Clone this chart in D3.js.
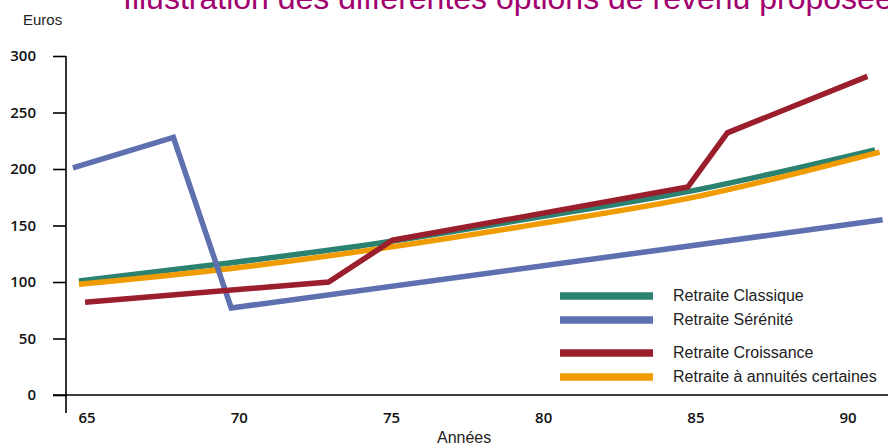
<!DOCTYPE html>
<html>
<head>
<meta charset="utf-8">
<script src="https://cdn.jsdelivr.net/npm/d3@7"></script>
<style>
  html, body { margin: 0; padding: 0; background: #fff; }
  svg { display: block; }
</style>
</head>
<body>
<svg id="chart" width="888" height="444"></svg>
<script>
// ---------- data ----------
const title = "Illustration des différentes options de revenu proposées";
const yLabel = "Euros";
const xLabel = "Années";
const yTicks = [0, 50, 100, 150, 200, 250, 300];
const xTicks = [65, 70, 75, 80, 85, 90];

const seriesNames = ["Retraite Classique", "Retraite Sérénité", "Retraite Croissance", "Retraite à annuités certaines"];

const classiqueYears = [65, 70, 75, 80, 85, 91.15];
const classiqueValues = [101, 117, 135, 157, 180, 217];

const sereniteYears = [64.8, 68.1, 70, 91.4];
const sereniteValues = [201, 228, 77, 155];

const croissanceYears = [65.2, 73.2, 75.3, 85, 86.3, 90.9];
const croissanceValues = [82, 100, 137, 184, 232, 282];

const annuitesYears = [65, 70, 75, 80, 85, 91.3];
const annuitesValues = [98, 112, 130, 151, 174, 215];

// ---------- drawing ----------
const colors = ["#2b8270", "#5e70b0", "#9b1e2d", "#f09b00"];
const svg = d3.select("#chart");

const x = d3.scaleLinear().domain([65, 90]).range([79, 840]);
const y = d3.scaleLinear().domain([0, 300]).range([395, 56]);

// title
svg.append("text")
  .attr("x", 123).attr("y", 9)
  .attr("fill", "#a1006e")
  .style("font-family", "'Liberation Sans', Arial, sans-serif")
  .style("font-size", "32px")
  .text(title);

// axis label
svg.append("text")
  .attr("x", 23).attr("y", 25)
  .style("font-family", "'Liberation Sans', Arial, sans-serif")
  .style("font-size", "15px")
  .attr("fill", "#222")
  .text(yLabel);

svg.append("text")
  .attr("x", 437).attr("y", 443)
  .style("font-family", "'Liberation Sans', Arial, sans-serif")
  .style("font-size", "16px")
  .attr("fill", "#222")
  .text(xLabel);

// y axis
const yAxis = d3.axisLeft(y).tickValues(yTicks).tickSize(13).tickPadding(17).tickSizeOuter(0);
const gy = svg.append("g").attr("transform", "translate(66,0)").call(yAxis);
gy.select(".domain").remove();
gy.selectAll(".tick line").attr("stroke", "#000").attr("stroke-width", 1.6);
gy.selectAll(".tick text")
  .style("font-family", "'Open Sans', 'Liberation Sans', sans-serif")
  .style("font-weight", "600")
  .style("font-size", "15px")
  .attr("fill", "#111");

// axis lines
svg.append("line").attr("x1", 66).attr("x2", 66).attr("y1", 56).attr("y2", 413)
  .attr("stroke", "#000").attr("stroke-width", 1.6);
svg.append("line").attr("x1", 53).attr("x2", 888).attr("y1", y(0)).attr("y2", y(0))
  .attr("stroke", "#000").attr("stroke-width", 1.6);

// x axis labels
const xAxis = d3.axisBottom(x).tickValues(xTicks).tickSize(0).tickPadding(17);
const gx = svg.append("g").attr("transform", `translate(0,${y(0)})`).call(xAxis);
gx.select(".domain").remove();
gx.selectAll(".tick text")
  .attr("text-anchor", "start")
  .attr("x", -1)
  .style("font-family", "'Open Sans', 'Liberation Sans', sans-serif")
  .style("font-weight", "600")
  .style("font-size", "15px")
  .attr("fill", "#111");

// lines
const series = [
  { years: classiqueYears, values: classiqueValues, color: colors[0], curve: d3.curveMonotoneX },
  { years: annuitesYears, values: annuitesValues, color: colors[3], curve: d3.curveMonotoneX },
  { years: sereniteYears, values: sereniteValues, color: colors[1], curve: d3.curveLinear },
  { years: croissanceYears, values: croissanceValues, color: colors[2], curve: d3.curveLinear }
];
series.forEach(s => {
  const pts = s.years.map((yr, i) => [yr, s.values[i]]);
  const line = d3.line().x(d => x(d[0])).y(d => y(d[1])).curve(s.curve);
  svg.append("path").datum(pts)
    .attr("d", line)
    .attr("fill", "none")
    .attr("stroke", s.color)
    .attr("stroke-width", 5.5)
    .attr("stroke-linejoin", "miter");
});

// legend
const legendY = [296, 320, 353, 377];
const lg = svg.append("g");
seriesNames.forEach((name, i) => {
  lg.append("line").attr("x1", 560).attr("x2", 653)
    .attr("y1", legendY[i]).attr("y2", legendY[i])
    .attr("stroke", colors[i]).attr("stroke-width", 7.5);
  lg.append("text").attr("x", 673).attr("y", legendY[i] + 5)
    .style("font-family", "'Liberation Sans', Arial, sans-serif")
    .style("font-size", "16px")
    .attr("fill", "#222")
    .text(name);
});
</script>
</body>
</html>
